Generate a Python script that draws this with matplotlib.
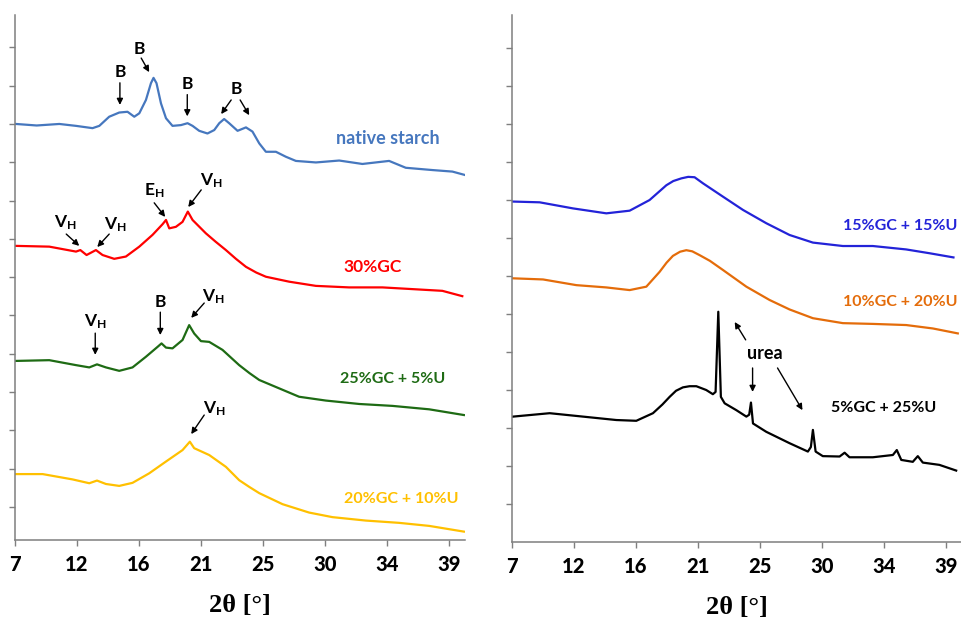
import matplotlib
matplotlib.use('Agg')
import matplotlib.pyplot as plt
import numpy as np

plt.rcParams['font.family'] = ['Lato', 'DejaVu Sans']
plt.rcParams['mathtext.fontset'] = 'custom'
plt.rcParams['mathtext.bf'] = 'Lato:bold'
plt.rcParams['mathtext.rm'] = 'Lato'

# 2theta positions and intensities (arbitrary units)
native_x = [7.07, 8.6, 10.27, 11.5, 12.72, 13.22, 13.95, 14.69, 15.3, 15.8, 16.17, 16.66, 17.03, 17.22, 17.44,
            17.77, 18.14, 18.62, 19.24, 19.73, 20.1, 20.59, 21.2, 21.7, 22.07, 22.43, 22.8, 23.42, 24.04,
            24.52, 25.02, 25.51, 26.25, 26.98, 27.72, 29.2, 30.92, 32.63, 34.6, 35.83, 37.8, 39.27, 40.2]
native_y = [10.92, 10.88, 10.92, 10.87, 10.81, 10.87, 11.11, 11.22, 11.24, 11.11, 11.2, 11.55, 11.99, 12.13, 11.99,
            11.46, 11.07, 10.87, 10.89, 10.94, 10.87, 10.74, 10.67, 10.76, 10.94, 11.05, 10.94, 10.74, 10.83,
            10.72, 10.41, 10.19, 10.19, 10.06, 9.95, 9.91, 9.96, 9.87, 9.95, 9.77, 9.71, 9.67, 9.58]

gc30_x = [7.07, 9.53, 11.5, 11.82, 12.28, 12.97, 13.46, 14.32, 15.18, 16.17, 17.15, 17.89, 18.14, 18.38,
          18.87, 19.36, 19.75, 20.1, 21.08, 21.8, 22.56, 23.3, 24.04, 24.8, 25.51, 27.23, 29.2, 31.65,
          34.11, 36.57, 38.53, 40.0]
gc30_y = [7.72, 7.7, 7.57, 7.61, 7.48, 7.61, 7.48, 7.38, 7.44, 7.7, 8.01, 8.29, 8.4, 8.18,
          8.22, 8.35, 8.62, 8.4, 8.05, 7.83, 7.61, 7.38, 7.17, 7.02, 6.91, 6.78, 6.67, 6.63,
          6.63, 6.58, 6.54, 6.4]

gc25_x = [7.0, 9.53, 11.5, 12.48, 13.05, 13.71, 14.69, 15.67, 16.66, 17.52, 17.81, 18.14, 18.62, 19.36,
          19.85, 20.22, 20.72, 21.33, 22.31, 23.54, 24.3, 25.02, 26.49, 27.96, 29.93, 32.4, 34.85, 37.56, 40.12]
gc25_y = [4.7, 4.72, 4.59, 4.53, 4.61, 4.53, 4.44, 4.53, 4.81, 5.07, 5.16, 5.05, 5.03, 5.25,
          5.64, 5.42, 5.22, 5.2, 4.99, 4.59, 4.38, 4.2, 3.98, 3.76, 3.66, 3.57, 3.52, 3.43, 3.28]

gc20_x = [7.0, 9.04, 11.25, 12.48, 13.05, 13.71, 14.69, 15.67, 16.9, 18.14, 19.36, 19.9, 20.22, 21.33,
          22.56, 23.54, 24.3, 25.02, 26.74, 28.7, 30.42, 32.88, 35.34, 37.56, 40.12]
gc20_y = [1.73, 1.73, 1.59, 1.49, 1.56, 1.47, 1.42, 1.5, 1.75, 2.06, 2.36, 2.58, 2.41, 2.23,
          1.92, 1.57, 1.39, 1.23, 0.94, 0.72, 0.6, 0.51, 0.45, 0.37, 0.22]

gc15_x = [7.07, 9.04, 11.5, 13.96, 15.68, 17.15, 18.39, 18.9, 19.49, 20.0, 20.47, 21.09, 22.56, 24.04,
          25.76, 27.48, 29.2, 31.41, 33.62, 36.08, 37.8, 39.57]
gc15_y = [8.96, 8.94, 8.78, 8.65, 8.72, 9.0, 9.39, 9.5, 9.57, 9.61, 9.6, 9.44, 9.09, 8.74,
          8.39, 8.08, 7.88, 7.79, 7.79, 7.7, 7.6, 7.49]

gc10_x = [7.07, 9.29, 11.75, 13.96, 15.68, 16.91, 17.89, 18.4, 18.87, 19.4, 19.86, 20.3, 20.84, 21.6,
          22.56, 24.29, 26.0, 27.48, 29.2, 31.41, 33.62, 36.08, 38.05, 39.89]
gc10_y = [6.94, 6.91, 6.76, 6.7, 6.63, 6.72, 7.11, 7.35, 7.53, 7.64, 7.68, 7.65, 7.55, 7.4,
          7.16, 6.72, 6.37, 6.12, 5.89, 5.76, 5.74, 5.71, 5.62, 5.49]

gc5_x = [7.07, 9.78, 12.24, 14.7, 16.17, 17.4, 18.1, 18.63, 19.1, 19.61, 20.1, 20.6, 21.33, 21.82,
         22.02, 22.22, 22.41, 22.69, 23.55, 24.29, 24.5, 24.63, 24.78, 25.76, 27.48, 28.83, 29.05, 29.2,
         29.4, 29.93, 31.17, 31.54, 31.9, 33.62, 35.1, 35.39, 35.72, 36.57, 36.94, 37.31, 38.53, 39.77]
gc5_y = [3.3, 3.39, 3.3, 3.21, 3.19, 3.39, 3.62, 3.82, 3.98, 4.07, 4.1, 4.1, 4.0, 3.89,
         3.95, 6.06, 3.82, 3.65, 3.47, 3.3, 3.35, 3.67, 3.12, 2.9, 2.6, 2.38, 2.5, 2.95,
         2.38, 2.26, 2.25, 2.35, 2.23, 2.23, 2.29, 2.42, 2.16, 2.11, 2.26, 2.09, 2.03, 1.88]

x_ticks = np.linspace(7, 39, 8)
x_tick_labels = ['7', '12', '16', '21', '25', '30', '34', '39']


def style_axes(ax, y_ticks, y_top):
    ax.set_xlim(7, 40.2)
    ax.set_ylim(0, y_top)
    ax.set_xticks(x_ticks)
    ax.set_xticklabels(x_tick_labels, fontsize=14.5, fontweight='black')
    ax.set_yticks(y_ticks)
    ax.set_yticklabels([])
    for side in ('top', 'right'):
        ax.spines[side].set_visible(False)
    for side in ('left', 'bottom'):
        ax.spines[side].set_color('#7f7f7f')
        ax.spines[side].set_linewidth(1.1)
    ax.tick_params(axis='both', direction='out', length=4, width=1, color='#7f7f7f', pad=7)
    ax.set_xlabel('2θ [°]', family='Liberation Serif', fontsize=19, fontweight='bold', labelpad=14)


def arrow(ax, tail, head):
    ax.annotate('', xy=head, xytext=tail,
                arrowprops=dict(arrowstyle='-|>', color='black', lw=1.0,
                                mutation_scale=9, shrinkA=0, shrinkB=0))


def name(ax, x, y, s, color, size=11.5):
    ax.text(x, y, s, color=color, fontsize=size, fontweight='bold', ha='center', va='center')


def left_panel(ax):
    ax.plot(native_x, native_y, color='#4677BE', lw=1.6)
    ax.plot(gc30_x, gc30_y, color='#FF0000', lw=1.6)
    ax.plot(gc25_x, gc25_y, color='#1E6B14', lw=1.6)
    ax.plot(gc20_x, gc20_y, color='#FFC000', lw=1.6)
    style_axes(ax, np.arange(0.87, 13.0, 1.005), 13.78)

    lbl = dict(fontsize=12.5, fontweight='bold', ha='center', va='center')
    vh = r'$\mathbf{V_H}$'
    eh = r'$\mathbf{E_H}$'

    ax.text(14.74, 12.28, 'B', **lbl)
    arrow(ax, (14.74, 12.0), (14.74, 11.42))
    ax.text(16.17, 12.89, 'B', **lbl)
    arrow(ax, (16.31, 12.65), (16.9, 12.28))
    ax.text(19.71, 11.97, 'B', **lbl)
    arrow(ax, (19.71, 11.69), (19.71, 11.12))
    ax.text(23.32, 11.84, 'B', **lbl)
    arrow(ax, (22.95, 11.55), (22.21, 11.18))
    arrow(ax, (23.61, 11.55), (24.28, 11.15))
    name(ax, 34.53, 10.55, 'native starch', '#4677BE', 13)

    ax.text(17.27, 9.16, eh, **lbl)
    arrow(ax, (17.27, 8.85), (18.08, 8.48))
    ax.text(21.48, 9.42, vh, **lbl)
    arrow(ax, (20.74, 9.19), (19.78, 8.74))
    ax.text(10.71, 8.32, vh, **lbl)
    arrow(ax, (10.78, 8.03), (11.74, 7.72))
    ax.text(14.4, 8.27, vh, **lbl)
    arrow(ax, (13.95, 8.03), (13.07, 7.69))
    name(ax, 33.35, 7.17, '30%GC', '#FF0000', 12.5)

    ax.text(12.92, 5.72, vh, **lbl)
    arrow(ax, (12.92, 5.43), (12.92, 4.86))
    ax.text(17.72, 6.25, 'B', **lbl)
    arrow(ax, (17.72, 5.98), (17.72, 5.38))
    ax.text(21.63, 6.4, vh, **lbl)
    arrow(ax, (20.96, 6.22), (20.0, 5.83))
    name(ax, 34.85, 4.23, '25%GC + 5%U', '#1E6B14')

    ax.text(21.7, 3.46, vh, **lbl)
    arrow(ax, (20.96, 3.28), (20.0, 2.78))
    name(ax, 35.52, 1.08, '20%GC + 10%U', '#FFC000')


def right_panel(ax):
    ax.plot(gc15_x, gc15_y, color='#2323D8', lw=1.6)
    ax.plot(gc10_x, gc10_y, color='#E46C0A', lw=1.6)
    ax.plot(gc5_x, gc5_y, color='black', lw=1.6)
    style_axes(ax, np.arange(1, 14, 1), 13.87)

    name(ax, 35.63, 8.32, '15%GC + 15%U', '#2323D8')
    name(ax, 35.63, 6.32, '10%GC + 20%U', '#E46C0A')
    name(ax, 34.45, 3.53, '5%GC + 25%U', 'black')
    name(ax, 25.64, 4.97, 'urea', 'black', 13)
    arrow(ax, (24.24, 5.32), (23.43, 5.79))
    arrow(ax, (24.75, 4.58), (24.75, 3.95))
    arrow(ax, (26.59, 4.58), (28.43, 3.47))


def main():
    fig = plt.figure(figsize=(9.61, 6.2), dpi=100)
    ax1 = fig.add_axes([15 / 961, 80 / 620, 450 / 961, 525 / 620])
    ax2 = fig.add_axes([512 / 961, 78 / 620, 450 / 961, 527 / 620])
    left_panel(ax1)
    right_panel(ax2)
    fig.savefig('out.png', dpi=100)


if __name__ == "__main__":
    main()
